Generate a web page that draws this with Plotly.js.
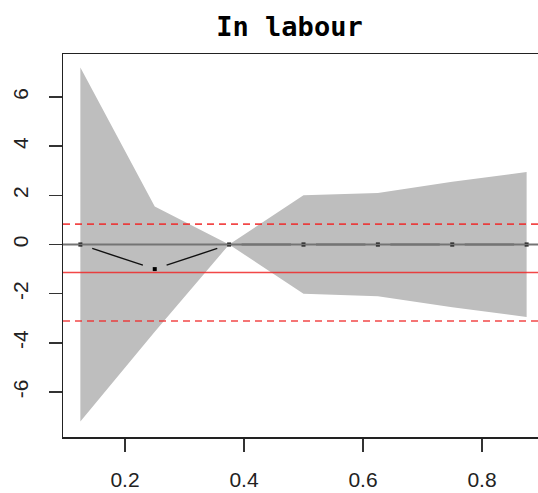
<!DOCTYPE html>
<html>
<head>
<meta charset="utf-8">
<script src="https://cdn.plot.ly/plotly-3.0.1.min.js"></script>
<style>
html,body{margin:0;padding:0;overflow:hidden;background:#fff;}
#chart{width:546px;height:493px;}
</style>
</head>
<body>
<div id="chart"></div>
<script>
// ---- data ----
const xPos      = [0.125, 0.25, 0.375, 0.5, 0.625, 0.75, 0.875];
const estimate  = [0, -1, 0, 0, 0, 0, 0];
const upperBand = [7.2, 1.55, 0, 2.0, 2.1, 2.55, 2.95];
const lowerBand = [-7.2, -3.55, 0, -2.0, -2.1, -2.55, -2.95];
const meanLevel = -1.14;
const upperRef  = 0.83;
const lowerRef  = -3.11;
const xTicks    = [0.2, 0.4, 0.6, 0.8];
const yTicks    = [-6, -4, -2, 0, 2, 4, 6];

// ---- layout geometry ----
const W = 546, H = 493;
const M = {l: 63, r: 2, t: 54, b: 56};
const xRange = [0.0958, 0.9042];
const yRange = [-7.83, 7.75];
const pxX = (W - M.l - M.r) / (xRange[1] - xRange[0]);
const pxY = (H - M.t - M.b) / (yRange[1] - yRange[0]);

// R type="b" style: segments with gaps around points
const gapPx = 12.5;
const segX = [], segY = [];
for (let i = 0; i < xPos.length - 1; i++) {
  const dx = (xPos[i+1] - xPos[i]) * pxX;
  const dy = (estimate[i+1] - estimate[i]) * pxY;
  const len = Math.sqrt(dx*dx + dy*dy);
  const f = gapPx / len;
  if (f < 0.5) {
    segX.push(xPos[i] + f*(xPos[i+1]-xPos[i]), xPos[i] + (1-f)*(xPos[i+1]-xPos[i]), null);
    segY.push(estimate[i] + f*(estimate[i+1]-estimate[i]), estimate[i] + (1-f)*(estimate[i+1]-estimate[i]), null);
  }
}

const traces = [
  {x: xPos, y: lowerBand, type: 'scatter', mode: 'lines', line: {width: 0, color: '#BEBEBE'}, hoverinfo: 'skip', showlegend: false},
  {x: xPos, y: upperBand, type: 'scatter', mode: 'lines', fill: 'tonexty', fillcolor: '#BEBEBE', line: {width: 0, color: '#BEBEBE'}, hoverinfo: 'skip', showlegend: false},
  {x: segX, y: segY, type: 'scatter', mode: 'lines', line: {color: '#111', width: 1.4}, connectgaps: false, showlegend: false},
  {x: xPos, y: estimate, type: 'scatter', mode: 'markers', marker: {color: '#000', size: 4, symbol: 'square'}, showlegend: false}
];

const redCol = 'rgba(240,40,40,0.85)';
const layout = {
  width: W, height: H,
  margin: M,
  paper_bgcolor: '#fff', plot_bgcolor: '#fff',
  showlegend: false,
  title: {
    text: 'In labour',
    font: {family: 'DejaVu Sans Mono', size: 27, color: '#000', weight: 'bold'},
    x: (289.5 - M.l) / (W - M.l - M.r), xref: 'paper', xanchor: 'center',
    y: (H - 27) / H, yref: 'container', yanchor: 'middle'
  },
  xaxis: {
    range: xRange, tickvals: xTicks, ticktext: xTicks.map(v => v.toFixed(1)),
    showgrid: false, zeroline: false,
    showline: true, mirror: true, linecolor: '#222', linewidth: 1.5,
    ticks: 'outside', ticklen: 13, tickwidth: 1.5, tickcolor: '#333',
    ticklabelstandoff: 10,
    tickfont: {family: 'Liberation Sans, Arial', size: 21, color: '#222'}
  },
  yaxis: {
    range: yRange, tickvals: yTicks, ticktext: yTicks.map(String),
    showgrid: false, zeroline: false,
    showline: true, mirror: true, linecolor: '#222', linewidth: 1.5,
    ticks: 'outside', ticklen: 13, tickwidth: 1.5, tickcolor: '#333',
    tickangle: -90, ticklabelstandoff: 12,
    tickfont: {family: 'Liberation Sans, Arial', size: 21, color: '#222'}
  },
  shapes: [
    {type: 'line', xref: 'paper', x0: 0, x1: 1, yref: 'y', y0: 0, y1: 0, line: {color: '#747474', width: 2}, layer: 'above'},
    {type: 'line', xref: 'paper', x0: 0, x1: 1, yref: 'y', y0: meanLevel, y1: meanLevel, line: {color: redCol, width: 1.6}, layer: 'above'},
    {type: 'line', xref: 'paper', x0: 0, x1: 1, yref: 'y', y0: upperRef, y1: upperRef, line: {color: redCol, width: 1.6, dash: '7px,5px'}, layer: 'above'},
    {type: 'line', xref: 'paper', x0: 0, x1: 1, yref: 'y', y0: lowerRef, y1: lowerRef, line: {color: redCol, width: 1.6, dash: '7px,5px'}, layer: 'above'}
  ]
};

Plotly.newPlot('chart', traces, layout, {displayModeBar: false, staticPlot: true});
</script>
</body>
</html>
